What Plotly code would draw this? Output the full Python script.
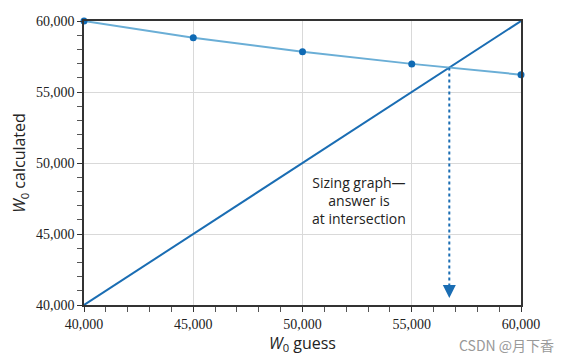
import plotly.graph_objects as go

guess = [40000, 45000, 50000, 55000, 60000]
calculated = [60000, 58820, 57830, 56980, 56220]
diag = [40000, 45000, 50000, 55000, 60000]
tick_vals = [40000, 45000, 50000, 55000, 60000]
tick_text = ["40,000", "45,000", "50,000", "55,000", "60,000"]
note = "Sizing graph—<br>answer is<br>at intersection"

# intersection between last segment of calculated line and diagonal
x0, x1 = guess[3], guess[4]
y0, y1 = calculated[3], calculated[4]
s = (y1 - y0) / (x1 - x0)
xi = (y0 - s * x0) / (1 - s)
yi = xi

dark = "#1a6db3"
light = "#6aaed6"

fig = go.Figure()
fig.add_trace(go.Scatter(x=guess, y=diag, mode="lines",
                         line=dict(color=dark, width=2), hoverinfo="skip"))
fig.add_trace(go.Scatter(x=guess, y=calculated, mode="lines+markers",
                         line=dict(color=light, width=2),
                         marker=dict(color="#0f6ab4", size=7), cliponaxis=False))
fig.add_trace(go.Scatter(x=[xi, xi], y=[yi, 40800], mode="lines",
                         line=dict(color=dark, width=2, dash="dot")))
fig.add_annotation(x=xi, y=40500, ax=xi, ay=41200, xref="x", yref="y",
                   axref="x", ayref="y", text="", showarrow=True,
                   arrowhead=2, arrowsize=1.3, arrowwidth=2, arrowcolor=dark)
fig.add_annotation(x=52600, y=47350, xref="x", yref="y", text=note,
                   showarrow=False, align="center",
                   font=dict(family="Open Sans, sans-serif", size=14, color="#222"))
fig.add_annotation(x=1.08, y=-0.141, xref="paper", yref="paper",
                   xanchor="right", yanchor="middle",
                   text="CSDN @月下香", showarrow=False,
                   font=dict(family="Noto Sans CJK SC, sans-serif", size=14, color="#999"))

axis_common = dict(
    range=[40000, 60000], tickvals=tick_vals, ticktext=tick_text,
    showgrid=True, gridcolor="#d9d9d9", gridwidth=1,
    showline=True, linecolor="#333", linewidth=1.5, mirror=True,
    ticks="outside", ticklen=5, tickcolor="#333",
    minor=dict(dtick=1000, ticks="outside", ticklen=5, tickcolor="#555", showgrid=False),
    tickfont=dict(family="Liberation Serif, serif", size=14, color="#222"),
    zeroline=False, automargin=False,
)
fig.update_xaxes(**axis_common,
                 title=dict(text="<i>W</i><sub>0</sub> guess", standoff=7,
                            font=dict(family="Open Sans, sans-serif", size=16, color="#222")))
fig.update_yaxes(**axis_common,
                 title=dict(text="<i>W</i><sub>0</sub> calculated", standoff=6,
                            font=dict(family="Open Sans, sans-serif", size=16, color="#222")))
fig.update_layout(width=564, height=353, showlegend=False,
                  margin=dict(l=76, r=51, t=13, b=56),
                  plot_bgcolor="white", paper_bgcolor="white")
fig.write_html("out.html")
